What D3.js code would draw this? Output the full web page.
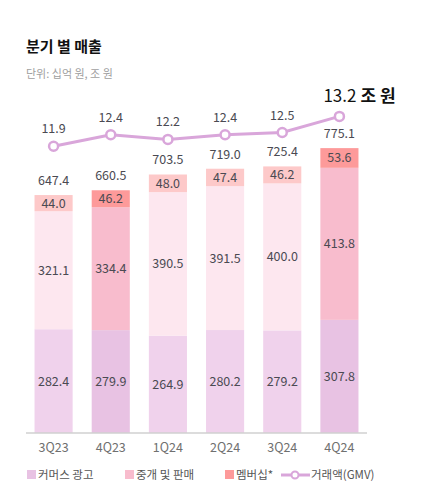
<!DOCTYPE html>
<html>
<head>
<meta charset="utf-8">
<script src="https://cdn.jsdelivr.net/npm/d3@7"></script>
<style>
  body { margin: 0; background: #fff; }
  svg text { font-family: "Noto Sans CJK KR", "Noto Sans", sans-serif; }
</style>
</head>
<body>
<svg id="chart" width="427" height="490"></svg>
<script>
// quarters and revenue (십억 원)
var quarters = ['3Q23', '4Q23', '1Q24', '2Q24', '3Q24', '4Q24'];
var commerceAds = [282.4, 279.9, 264.9, 280.2, 279.2, 307.8];
var brokerage = [321.1, 334.4, 390.5, 391.5, 400.0, 413.8];
var membership = [44.0, 46.2, 48.0, 47.4, 46.2, 53.6];
var totals = [647.4, 660.5, 703.5, 719.0, 725.4, 775.1];
// GMV (조 원)
var gmv = [11.9, 12.4, 12.2, 12.4, 12.5, 13.2];
var highlighted = ['4Q23', '4Q24'];

var seriesNames = ['커머스 광고', '중개 및 판매', '멤버십*'];
var lightColors = ['#f0d2ec', '#fde7ef', '#fdc9c9'];
var darkColors = ['#e8c2e3', '#f8bccd', '#fd9a9a'];
var lineColor = '#d9a6da';

var svg = d3.select('#chart');

var x = d3.scaleBand().domain(quarters).range([25, 368])
  .paddingInner(1 / 3).paddingOuter(1 / 6);
var y = d3.scaleLinear().domain([0, 800]).range([433, 139]);
var yG = d3.scaleLinear().domain([11, 14]).range([167, 98]);

// title
svg.append('text').attr('x', 26).attr('y', 52)
  .attr('font-size', 15).attr('font-weight', 700).attr('fill', '#111')
  .text('분기 별 매출');
svg.append('text').attr('x', 26).attr('y', 78)
  .attr('font-size', 11).attr('fill', '#a0a0a0')
  .text('단위: 십억 원, 조 원');

// stacked bars
var rows = quarters.map(function(q, i) {
  return { q: q, s0: commerceAds[i], s1: brokerage[i], s2: membership[i] };
});
var stack = d3.stack().keys(['s0', 's1', 's2'])(rows);

stack.forEach(function(layer, k) {
  var g = svg.append('g');
  g.selectAll('rect').data(layer).enter().append('rect')
    .attr('x', function(d) { return x(d.data.q); })
    .attr('width', x.bandwidth())
    .attr('y', function(d) { return y(d[1]); })
    .attr('height', function(d) { return y(d[0]) - y(d[1]); })
    .attr('fill', function(d) {
      return highlighted.indexOf(d.data.q) >= 0 ? darkColors[k] : lightColors[k];
    });
  g.selectAll('text').data(layer).enter().append('text')
    .attr('x', function(d) { return x(d.data.q) + x.bandwidth() / 2; })
    .attr('y', function(d) { return (y(d[0]) + y(d[1])) / 2 + 4.5; })
    .attr('text-anchor', 'middle').attr('font-size', 12.5).attr('fill', '#4a4a52')
    .text(function(d) { return (d[1] - d[0]).toFixed(1); });
});

// totals
svg.append('g').selectAll('text').data(quarters).enter().append('text')
  .attr('x', function(q) { return x(q) + x.bandwidth() / 2; })
  .attr('y', function(q, i) { return y(totals[i]) - 10; })
  .attr('text-anchor', 'middle').attr('font-size', 12.5).attr('fill', '#4a4a52')
  .text(function(q, i) { return totals[i].toFixed(1); });

// axis
var axis = svg.append('g').attr('transform', 'translate(0,433)')
  .call(d3.axisBottom(x).tickSize(0).tickPadding(10));
axis.select('.domain').attr('d', 'M26,0H367').attr('stroke', '#d0d0d0').attr('stroke-width', 1.5);
axis.selectAll('text').attr('font-size', 12.5).attr('fill', '#707070')
  .style('font-family', '"Noto Sans CJK KR", "Noto Sans", sans-serif');

// GMV line
var cx = function(q) { return x(q) + x.bandwidth() / 2; };
var line = d3.line()
  .x(function(d, i) { return cx(quarters[i]); })
  .y(function(d) { return yG(d); });
svg.append('path').datum(gmv).attr('d', line)
  .attr('fill', 'none').attr('stroke', lineColor).attr('stroke-width', 3);
svg.append('g').selectAll('circle').data(gmv).enter().append('circle')
  .attr('cx', function(d, i) { return cx(quarters[i]); })
  .attr('cy', function(d) { return yG(d); })
  .attr('r', 4.5).attr('fill', '#fff').attr('stroke', lineColor).attr('stroke-width', 2.5);
svg.append('g').selectAll('text').data(gmv.slice(0, 5)).enter().append('text')
  .attr('x', function(d, i) { return cx(quarters[i]); })
  .attr('y', function(d) { return yG(d) - 13; })
  .attr('text-anchor', 'middle').attr('font-size', 12.5).attr('fill', '#4a4a52')
  .text(function(d) { return d.toFixed(1); });

// last GMV label, larger
var last = gmv.length - 1;
var big = svg.append('text').attr('x', cx(quarters[last]) - 16).attr('y', yG(gmv[last]) - 14)
  .attr('font-size', 17).attr('fill', '#111');
big.append('tspan').text(gmv[last].toFixed(1));
big.append('tspan').attr('dx', 4).attr('font-weight', 700).text('조 원');

// legend
var legend = svg.append('g').attr('transform', 'translate(0,475)');
var legendX = [27, 125, 225];
seriesNames.forEach(function(name, k) {
  legend.append('rect').attr('x', legendX[k]).attr('y', -5).attr('width', 9).attr('height', 9)
    .attr('fill', darkColors[k]);
  legend.append('text').attr('x', legendX[k] + 11).attr('y', 4)
    .attr('font-size', 11.5).attr('fill', '#555').text(name);
});
legend.append('line').attr('x1', 281).attr('x2', 310).attr('y1', 0).attr('y2', 0)
  .attr('stroke', lineColor).attr('stroke-width', 3);
legend.append('circle').attr('cx', 295).attr('cy', 0).attr('r', 3.5)
  .attr('fill', '#fff').attr('stroke', lineColor).attr('stroke-width', 2);
legend.append('text').attr('x', 311).attr('y', 4)
  .attr('font-size', 11.5).attr('fill', '#555').text('거래액(GMV)');
</script>
</body>
</html>
